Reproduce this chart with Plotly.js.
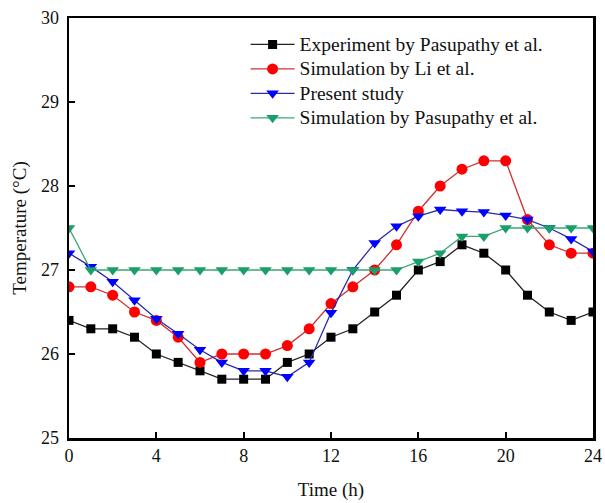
<!DOCTYPE html>
<html>
<head>
<meta charset="utf-8">
<script src="https://cdn.plot.ly/plotly-3.0.1.min.js"></script>
<style>html,body{margin:0;padding:0;background:#fff;}</style>
</head>
<body>
<div id="chart" style="width:605px;height:503px;"></div>
<script>
const hours = [0,1,2,3,4,5,6,7,8,9,10,11,12,13,14,15,16,17,18,19,20,21,22,23,24];
const experimentPasupathy = [26.4,26.3,26.3,26.2,26.0,25.9,25.8,25.7,25.7,25.7,25.9,26.0,26.2,26.3,26.5,26.7,27.0,27.1,27.3,27.2,27.0,26.7,26.5,26.4,26.5];
const simulationLi = [26.8,26.8,26.7,26.5,26.4,26.2,25.9,26.0,26.0,26.0,26.1,26.3,26.6,26.8,27.0,27.3,27.7,28.0,28.2,28.3,28.3,27.6,27.3,27.2,27.2];
const presentStudy = [27.2,27.04,26.86,26.64,26.42,26.24,26.05,25.9,25.8,25.8,25.73,25.9,26.49,27.0,27.32,27.52,27.64,27.72,27.7,27.69,27.65,27.6,27.5,27.37,27.22];
const simulationPasupathy = [27.5,27.0,27.0,27.0,27.0,27.0,27.0,27.0,27.0,27.0,27.0,27.0,27.0,27.0,27.0,27.0,27.1,27.2,27.4,27.4,27.5,27.5,27.5,27.5,27.5];
const seriesNames = ["Experiment by Pasupathy et al.","Simulation by Li et al.","Present study","Simulation by Pasupathy et al."];
const xTicks = [0,4,8,12,16,20,24];
const yTicks = [25,26,27,28,29,30];

const big = s => '<span style="font-size:19.5px">' + s + '</span>';

const traces = [
  {x: hours, y: experimentPasupathy, name: big(seriesNames[0]), mode: 'lines+markers',
   line: {color: '#222222', width: 1.3}, marker: {symbol: 'square', size: 9, color: '#000000'}},
  {x: hours, y: simulationLi, name: big(seriesNames[1]), mode: 'lines+markers',
   line: {color: '#d03030', width: 1.3}, marker: {symbol: 'circle', size: 11, color: '#ff0000'}},
  {x: hours, y: presentStudy, name: big(seriesNames[2]), mode: 'lines+markers',
   line: {color: '#2a2aa8', width: 1.3}, marker: {symbol: 'triangle-down', size: 11, color: '#0000ff'}},
  {x: hours, y: simulationPasupathy, name: big(seriesNames[3]), mode: 'lines+markers',
   line: {color: '#3aa878', width: 1.3}, marker: {symbol: 'triangle-down', size: 11, color: '#1a9e6a'}}
];

const axisCommon = {
  showgrid: false, zeroline: false, showline: true, linecolor: '#000', linewidth: 2.5,
  mirror: true, ticks: 'inside', ticklen: 6, tickwidth: 2, tickcolor: '#000',
  tickfont: {family: 'Liberation Serif', size: 18, color: '#111'}
};

const layout = {
  width: 605, height: 503,
  margin: {l: 69, r: 12, t: 18, b: 65},
  paper_bgcolor: '#fff', plot_bgcolor: '#fff',
  font: {family: 'Liberation Serif', color: '#111'},
  xaxis: Object.assign({}, axisCommon, {range: [0, 24], tickvals: xTicks, ticktext: xTicks.map(String),
    title: {text: 'Time (h)', font: {family: 'Liberation Serif', size: 19, color: '#111'}, standoff: 18}}),
  yaxis: Object.assign({}, axisCommon, {range: [25, 30], tickvals: yTicks, ticktext: yTicks.map(String),
    ticklabelstandoff: 4,
    title: {text: 'Temperature (°C)', font: {family: 'Liberation Serif', size: 19, color: '#111'}, standoff: 10}}),
  showlegend: true,
  legend: {x: 0.337, y: 0.978, xanchor: 'left', yanchor: 'top', bgcolor: 'rgba(0,0,0,0)',
    font: {family: 'Liberation Serif', size: 16.5, color: '#111'}, itemwidth: 44, tracegroupgap: 0}
};

Plotly.newPlot('chart', traces, layout, {displayModeBar: false, staticPlot: true});
</script>
</body>
</html>
